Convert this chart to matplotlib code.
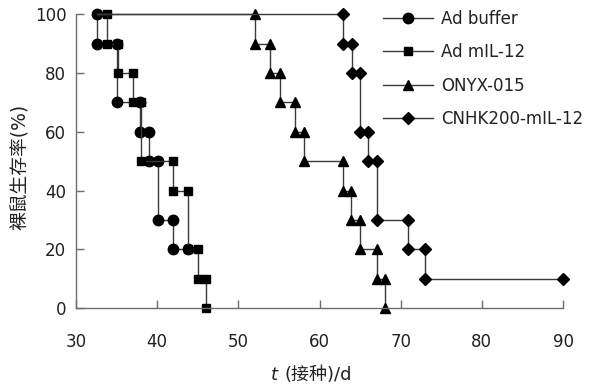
import matplotlib
matplotlib.use("Agg")
import matplotlib.pyplot as plt

plt.rcParams['font.family'] = ['DejaVu Sans', 'Noto Sans CJK SC']
plt.rcParams['font.size'] = 12

# survival curves: day of each drop and survival (%) after the drop
start_day = 32.6

buffer_days = [32.6, 35.0, 37.9, 39.0, 40.1, 42.0]
buffer_surv = [90, 70, 60, 50, 30, 20]
buffer_end = 43.8

mil12_days = [33.8, 35.2, 37.0, 38.0, 42.0, 43.8, 45.0, 46.0]
mil12_surv = [90, 80, 70, 50, 40, 20, 10, 0]

onyx_days = [52.0, 53.9, 55.1, 57.0, 58.1, 62.9, 63.9, 65.0, 67.1, 68.1]
onyx_surv = [90, 80, 70, 60, 50, 40, 30, 20, 10, 0]

cnhk_days = [62.9, 64.0, 65.0, 66.0, 67.1, 70.9, 73.0]
cnhk_surv = [90, 80, 60, 50, 30, 20, 10]
cnhk_end = 90.0

x_ticks = [30, 40, 50, 60, 70, 80, 90]
y_ticks = [0, 20, 40, 60, 80, 100]


def km_path(days, surv, end=None):
    x, y = [start_day], [100]
    prev = 100
    for d, s in zip(days, surv):
        x += [d, d]
        y += [prev, s]
        prev = s
    if end is not None:
        x.append(end)
        y.append(prev)
    return x, y


fig = plt.figure(figsize=(6.03, 3.85), dpi=100)
ax = fig.add_axes([76 / 603, 1 - 308 / 385, (563 - 76) / 603, (308 - 14.3) / 385])

line_kw = dict(color='#3a3a3a', lw=1.0, mfc='black', mec='black', clip_on=False,
               markevery=slice(1, None))

series = [
    (buffer_days, buffer_surv, buffer_end, 'o', 7.5, 'Ad buffer'),
    (mil12_days, mil12_surv, None, 's', 6.0, 'Ad mIL-12'),
    (onyx_days, onyx_surv, None, '^', 7.0, 'ONYX-015'),
    (cnhk_days, cnhk_surv, cnhk_end, 'D', 6.5, 'CNHK200-mIL-12'),
]
for days, surv, end, mk, ms, lab in series:
    x, y = km_path(days, surv, end)
    ax.plot(x, y, marker=mk, ms=ms, label=lab, **line_kw)

ax.set_xlim(30, 90)
ax.set_ylim(0, 100)
ax.set_xticks(x_ticks)
ax.set_yticks(y_ticks)
ax.spines['top'].set_visible(False)
ax.spines['right'].set_visible(False)
for sp in ['left', 'bottom']:
    ax.spines[sp].set_color('#6e6e6e')
    ax.spines[sp].set_linewidth(1.0)
ax.tick_params(direction='in', length=6, width=1.0, color='#6e6e6e', labelcolor='#222222')
ax.tick_params(axis='x', pad=18)
ax.tick_params(axis='y', pad=7)

leg = ax.legend(loc='upper left', bbox_to_anchor=(383 / 603, 1 - 10 / 385),
                bbox_transform=fig.transFigure, frameon=False, handlelength=3.0,
                handletextpad=0.5, labelspacing=0.92, borderpad=0, borderaxespad=0)
for t in leg.get_texts():
    t.set_color('#222222')

fig.text(278 / 603, 1 - 375 / 385, 't', style='italic', ha='right', va='center',
         color='#222222', fontsize=13)
fig.text(284 / 603, 1 - 375 / 385, '(接种)/d', ha='left', va='center', color='#222222',
         fontsize=13)
fig.text(20 / 603, 1 - 167 / 385, '裸鼠生存率(%)', rotation=90, ha='center', va='center',
         color='#222222', fontsize=13.5)

fig.savefig('out.png', dpi=100)
